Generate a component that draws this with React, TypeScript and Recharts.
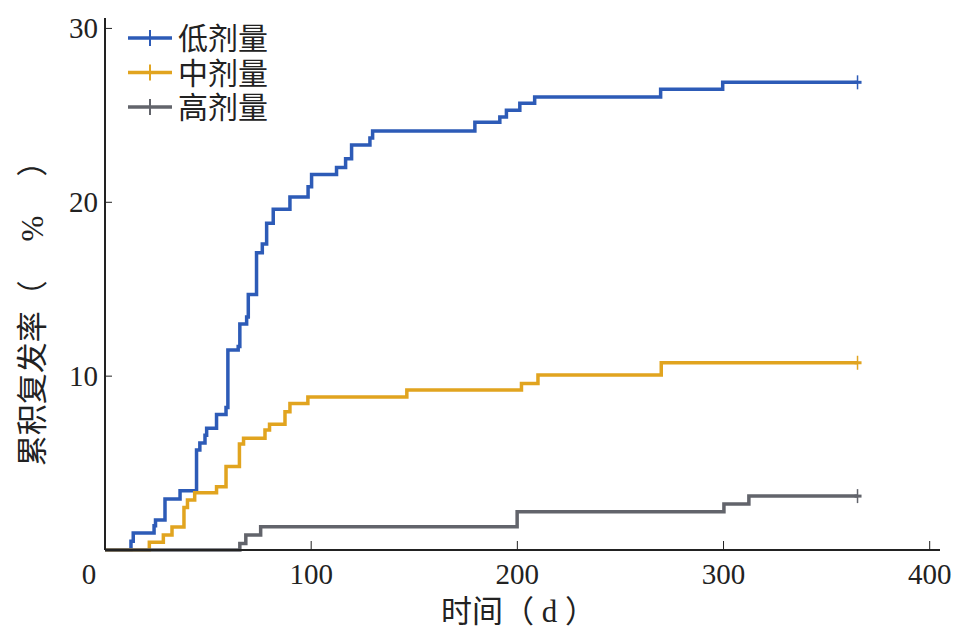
import React from 'react'
import { LineChart, Line, XAxis, YAxis, Label } from 'recharts'

const lowDays = [0, 12.6, 13.7, 23.8, 24.5, 29.1, 36.4, 44.4, 46.0, 48.5, 49.3, 54.1, 58.7, 59.6, 64.6, 65.4, 68.7, 69.5, 73.5, 76.3, 78.4, 81.6, 89.7, 98.5, 100.2, 112.3, 116.7, 119.6, 128.5, 129.8, 179.4, 191.5, 194.7, 201.2, 208.4, 269.5, 299.6, 365]
const lowRate = [0, 0.5, 0.98, 1.4, 1.72, 2.93, 3.41, 5.75, 6.15, 6.6, 7.0, 7.8, 8.2, 11.5, 11.7, 13.0, 13.4, 14.7, 17.1, 17.6, 18.8, 19.6, 20.3, 20.9, 21.6, 22.0, 22.5, 23.3, 23.7, 24.1, 24.6, 24.9, 25.3, 25.7, 26.05, 26.5, 26.9, 26.9]

const midDays = [0, 21.5, 28.3, 32.5, 38.3, 40.0, 43.5, 54.1, 58.7, 65.2, 67.2, 77.6, 79.8, 87.3, 89.7, 98.4, 146.4, 202, 210, 269.8, 365]
const midRate = [0, 0.45, 0.86, 1.32, 2.45, 2.87, 3.3, 3.64, 4.8, 6.1, 6.43, 6.9, 7.24, 7.95, 8.43, 8.8, 9.2, 9.58, 10.06, 10.77, 10.77]

const highDays = [0, 65.4, 68.3, 75.5, 199.9, 300.2, 312.3, 365]
const highRate = [0, 0.38, 0.86, 1.34, 2.2, 2.64, 3.1, 3.1]

const xTicks = [0, 100, 200, 300, 400]
const yTicks = [10, 20, 30]

const SERIES = [
  { name: '低剂量', days: lowDays, rate: lowRate, color: '#2d5bb7' },
  { name: '中剂量', days: midDays, rate: midRate, color: '#e1a41f' },
  { name: '高剂量', days: highDays, rate: highRate, color: '#62646b' },
]

const FONT = '"Liberation Serif", "Noto Sans CJK SC", serif'
const AXIS = '#222'
const Y_TITLE = '累积复发率（' + '\u00A0'.repeat(5) + '%' + '\u00A0'.repeat(5) + '）'

const toRows = (days: number[], rate: number[]) => days.map((d, i) => ({ day: d, rate: rate[i] }))

function XTick({ x, y, payload }: any) {
  const dx = payload.value === 0 ? -16 : 0
  return (
    <g>
      {payload.value !== 0 && <line x1={x} x2={x} y1={y} y2={y - 9} stroke={AXIS} strokeWidth={1} />}
      <text x={x + dx} y={y + 34} textAnchor="middle" fontSize={29} fontFamily={FONT} fill={AXIS}>
        {payload.value}
      </text>
    </g>
  )
}

function YTick({ x, y, payload }: any) {
  return (
    <g>
      <line x1={x} x2={x + 7} y1={y} y2={y} stroke={AXIS} strokeWidth={1} />
      <text x={x - 7} y={y + 10} textAnchor="end" fontSize={29} fontFamily={FONT} fill={AXIS}>
        {payload.value}
      </text>
    </g>
  )
}

const censorDot = (color: string, last: number) => (props: any) => {
  const { cx, cy, index } = props
  if (index !== last) return <g key={index} />
  return (
    <g key={index}>
      <line x1={cx} x2={cx} y1={cy - 7} y2={cy + 7} stroke={color} strokeWidth={1.5} />
      <line x1={cx - 3} x2={cx + 4} y1={cy} y2={cy} stroke={color} strokeWidth={3} />
    </g>
  )
}

function LegendBox() {
  return (
    <svg width={160} height={110} style={{ position: 'absolute', left: 128, top: 18 }}>
      {SERIES.map((s, i) => {
        const cy = 20 + i * 34.5
        return (
          <g key={s.name}>
            <line x1={0} x2={44} y1={cy} y2={cy} stroke={s.color} strokeWidth={3.5} />
            <line x1={22} x2={22} y1={cy - 8} y2={cy + 8} stroke={s.color} strokeWidth={2} />
            <text x={50} y={cy + 11} fontSize={30} fontFamily={FONT} fill={AXIS}>{s.name}</text>
          </g>
        )
      })}
    </svg>
  )
}

export default function App() {
  return (
    <div style={{ position: 'absolute', left: 0, top: 0, width: 965, height: 632, background: '#fff' }}>
      <LineChart width={965} height={632} margin={{ top: 18, right: 25, bottom: 0, left: 0 }}>
        <XAxis
          type="number"
          dataKey="day"
          domain={[0, 405]}
          ticks={xTicks}
          tick={<XTick />}
          tickLine={false}
          tickSize={0}
          tickMargin={0}
          axisLine={{ stroke: AXIS, strokeWidth: 2 }}
          allowDuplicatedCategory={false}
          height={82}
        >
          <Label value="时间（ d ）" position="insideBottom" offset={10} fontSize={31} fontFamily={FONT} fill={AXIS} dx={-4} />
        </XAxis>
        <YAxis
          type="number"
          domain={[0, 30.6]}
          ticks={yTicks}
          tick={<YTick />}
          tickLine={false}
          tickSize={0}
          tickMargin={0}
          axisLine={{ stroke: AXIS, strokeWidth: 2 }}
          width={105}
        >
          <Label
            content={() => (
              <text
                x={0}
                y={0}
                transform="translate(32 306) rotate(-90)"
                textAnchor="middle"
                dominantBaseline="central"
                fontSize={31}
                fontFamily={FONT}
                fill={AXIS}
              >
                {Y_TITLE}
              </text>
            )}
          />
        </YAxis>
        {SERIES.map((s) => (
          <Line
            key={s.name}
            data={toRows(s.days, s.rate)}
            dataKey="rate"
            name={s.name}
            type="stepAfter"
            stroke={s.color}
            strokeWidth={3.5}
            dot={censorDot(s.color, s.days.length - 1)}
            activeDot={false}
            isAnimationActive={false}
          />
        ))}
      </LineChart>
      <LegendBox />
    </div>
  )
}
